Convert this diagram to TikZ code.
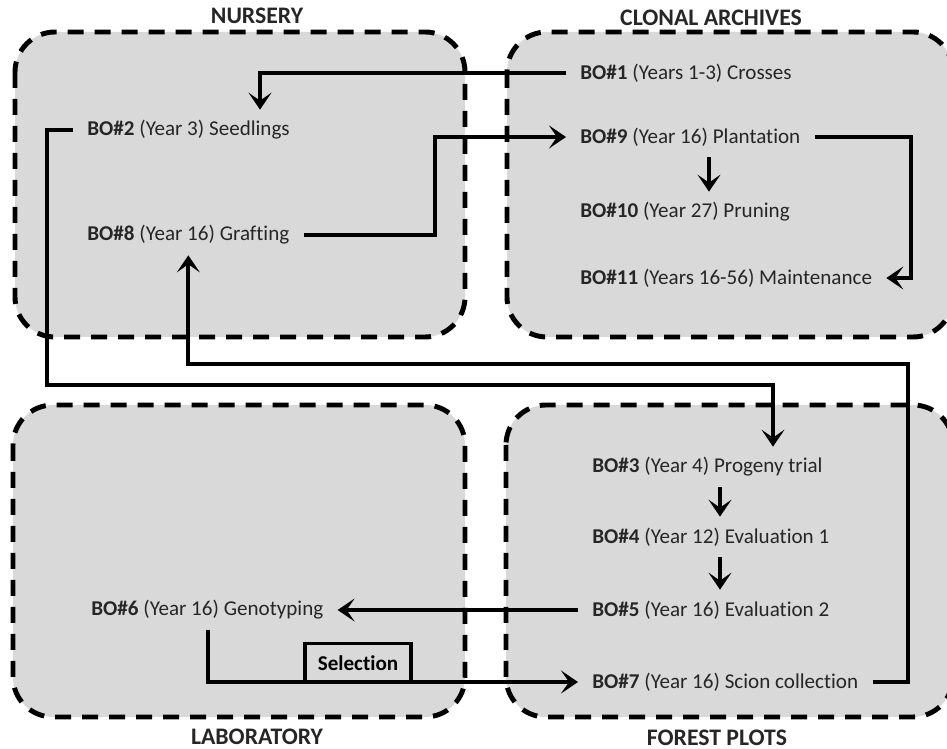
\documentclass[tikz,border=0pt]{standalone}
\usepackage{fontspec}
\setmainfont{Carlito}[Ligatures={NoCommon}]
\usetikzlibrary{arrows.meta}
\definecolor{areagray}{HTML}{D9D9D9}
\definecolor{textgray}{HTML}{262626}
\begin{document}
\begin{tikzpicture}[
    x=0.02cm, y=-0.02cm,
    arrowstyle/.style={draw, line width=2.2pt, -{Stealth[length=0.34cm, width=0.46cm, inset=0.16cm]}},
    areabox/.style={draw, fill=areagray, line width=2.8pt,
        dash pattern=on 0.32cm off 0.22cm, rounded corners=0.8cm},
    stage/.style={inner xsep=0.28cm, inner ysep=0pt, minimum height=0.8cm, anchor=west,
        text=textgray, font=\fontsize{12}{14}\selectfont},
    areaname/.style={text=textgray, font=\bfseries\fontsize{13.5}{16}\selectfont},
    choice/.style={draw, fill=areagray, line width=2pt, minimum width=2.12cm,
        minimum height=0.78cm, inner sep=0pt, font=\bfseries\fontsize{12}{14}\selectfont}
]
\useasboundingbox (0,0) rectangle (947,749);

% the four sites
\draw[areabox] (15,32) rectangle (465,337);
\draw[areabox] (507,32) rectangle (953,337);
\draw[areabox] (13,405) rectangle (465,717);
\draw[areabox] (506,405) rectangle (953,717);

\node (Nursery) [areaname] at (257,16) {NURSERY};
\node (Archives) [areaname] at (711,18) {CLONAL ARCHIVES};
\node (Laboratory) [areaname] at (257,737) {LABORATORY};
\node (Forest) [areaname] at (717,738) {FOREST PLOTS};

% breeding operations
\node (BO01) [stage] at (566,73) {\textbf{BO\#1} (Years 1-3) Crosses};
\node (BO02) [stage] at (73,130) {\textbf{BO\#2} (Year 3) Seedlings};
\node (BO09) [stage] at (566,137) {\textbf{BO\#9} (Year 16) Plantation};
\node (BO10) [stage] at (566,212) {\textbf{BO\#10} (Year 27) Pruning};
\node (BO08) [stage] at (73,235) {\textbf{BO\#8} (Year 16) Grafting};
\node (BO11) [stage] at (566,278) {\textbf{BO\#11} (Years 16-56) Maintenance};
\node (BO03) [stage] at (578,467) {\textbf{BO\#3} (Year 4) Progeny trial};
\node (BO04) [stage] at (578,537) {\textbf{BO\#4} (Year 12) Evaluation 1};
\node (BO05) [stage] at (578,610) {\textbf{BO\#5} (Year 16) Evaluation 2};
\node (BO06) [stage] at (77,610) {\textbf{BO\#6} (Year 16) Genotyping};
\node (BO07) [stage] at (578,682) {\textbf{BO\#7} (Year 16) Scion collection};

\node (Selection) [choice] at (358,663) {Selection};

\draw[arrowstyle] (BO01.west) -| (260,0 |- BO02.north);
\draw[arrowstyle] (BO02.west) -| (47,385) -| (773,0 |- BO03.north);
\draw[arrowstyle] (BO08.east) -| (435,137) -- (BO09.west);
\draw[arrowstyle] (BO09.east) -| (911,278) -- (BO11.east);
\draw[arrowstyle] (709,0 |- BO09.south) -- (709,0 |- BO10.north);
\draw[arrowstyle] (720,0 |- BO03.south) -- (720,0 |- BO04.north);
\draw[arrowstyle] (720,0 |- BO04.south) -- (720,0 |- BO05.north);
\draw[arrowstyle] (BO05.west) -- (BO06.east);
\draw[arrowstyle] (208,0 |- BO06.south) |- (BO07.west);
\draw[arrowstyle] (BO07.east) -| (908,364) -| (BO08.south);

\end{tikzpicture}
\end{document}
